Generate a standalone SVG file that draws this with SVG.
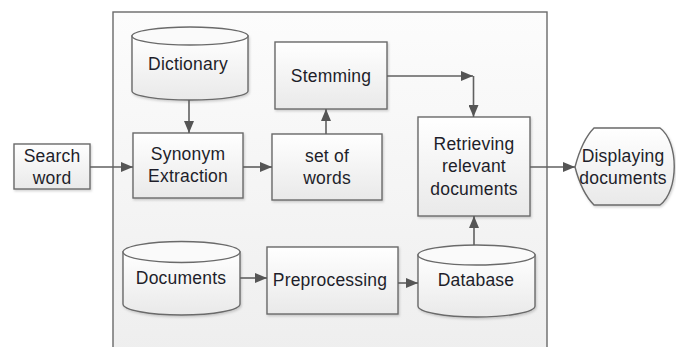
<svg xmlns="http://www.w3.org/2000/svg" width="676" height="347" viewBox="0 0 676 347">
<defs>
<linearGradient id="gBox" x1="0" y1="0" x2="0" y2="1">
<stop offset="0" stop-color="#ffffff"/>
<stop offset="1" stop-color="#e9e9e9"/>
</linearGradient>
<linearGradient id="gCont" x1="0" y1="0" x2="0" y2="1">
<stop offset="0" stop-color="#fcfcfc"/>
<stop offset="1" stop-color="#eeeeee"/>
</linearGradient>
<filter id="sh" x="-10%" y="-10%" width="130%" height="130%">
<feDropShadow dx="1" dy="1.5" stdDeviation="1" flood-color="#000" flood-opacity="0.18"/>
</filter>
<marker id="ah" viewBox="0 0 12 10" refX="12" refY="5" markerWidth="12" markerHeight="10" markerUnits="userSpaceOnUse" orient="auto">
<path d="M0,0 L12,5 L0,10 Z" fill="#555555"/>
</marker>
</defs>
<style>
.shape{fill:url(#gBox);stroke:#6a6a6a;stroke-width:1.4;filter:url(#sh)}
.top{fill:#fafafa;stroke:#6a6a6a;stroke-width:1.4}
.conn{fill:none;stroke:#606060;stroke-width:1.6;marker-end:url(#ah)}
text{font-family:"Liberation Sans",Arial,sans-serif;font-size:17.5px;letter-spacing:0.2px;fill:#1e1e2a;text-anchor:middle;dominant-baseline:central}
</style>
<rect width="676" height="347" fill="#ffffff"/>
<rect id="container" x="113" y="12" width="434" height="345" fill="url(#gCont)" stroke="#6a6a6a" stroke-width="1.4"/>

<g id="search-word">
<rect class="shape" x="14" y="144" width="76" height="45"/>
<text x="52" y="156">Search</text>
<text x="52" y="178">word</text>
</g>

<g id="dictionary">
<path class="shape" d="M132,36 L132,91 A58,9 0 0 0 248,91 L248,36 Z"/>
<ellipse class="top" cx="190" cy="36" rx="58" ry="9"/>
<text x="188" y="64">Dictionary</text>
</g>

<g id="synonym-extraction">
<rect class="shape" x="133" y="133" width="110" height="65"/>
<text x="188" y="154">Synonym</text>
<text x="188" y="176">Extraction</text>
</g>

<g id="set-of-words">
<rect class="shape" x="272" y="134" width="110" height="66"/>
<text x="327" y="156">set of</text>
<text x="327" y="178">words</text>
</g>

<g id="stemming">
<rect class="shape" x="275" y="42" width="112" height="67"/>
<text x="331" y="76">Stemming</text>
</g>

<g id="retrieving">
<rect class="shape" x="418" y="117" width="112" height="99"/>
<text x="474" y="144">Retrieving</text>
<text x="474" y="166">relevant</text>
<text x="474" y="189">documents</text>
</g>

<g id="displaying">
<path class="shape" d="M575,167 C580,148 586,136 594,128 L660,128 C679,142 679,191 660,205 L594,205 C586,197 580,186 575,167 Z"/>
<text x="623" y="156">Displaying</text>
<text x="623" y="178">documents</text>
</g>

<g id="documents">
<path class="shape" d="M123,252 L123,304 A58.5,11 0 0 0 240,304 L240,252 Z"/>
<ellipse class="top" cx="181.5" cy="252" rx="58.5" ry="10.5"/>
<text x="181" y="278">Documents</text>
</g>

<g id="preprocessing">
<rect class="shape" x="267" y="247" width="131" height="67"/>
<text x="330" y="280">Preprocessing</text>
</g>

<g id="database">
<path class="shape" d="M418,255 L418,306 A58.5,11 0 0 0 535,306 L535,255 Z"/>
<ellipse class="top" cx="476.5" cy="255" rx="58.5" ry="10"/>
<text x="476" y="280">Database</text>
</g>

<g id="connectors">
<path class="conn" d="M90,167 L133,167"/>
<path class="conn" d="M189,100 L189,133"/>
<path class="conn" d="M243,167 L272,167"/>
<path class="conn" d="M326,134 L326,109"/>
<path class="conn" d="M387,76 L473,76"/>
<path class="conn" d="M473.5,76 L473.5,117"/>
<path class="conn" d="M530,167 L575,167"/>
<path class="conn" d="M240,278 L267,278"/>
<path class="conn" d="M398,283 L418,283"/>
<path class="conn" d="M474,245 L474,216"/>
</g>
</svg>
